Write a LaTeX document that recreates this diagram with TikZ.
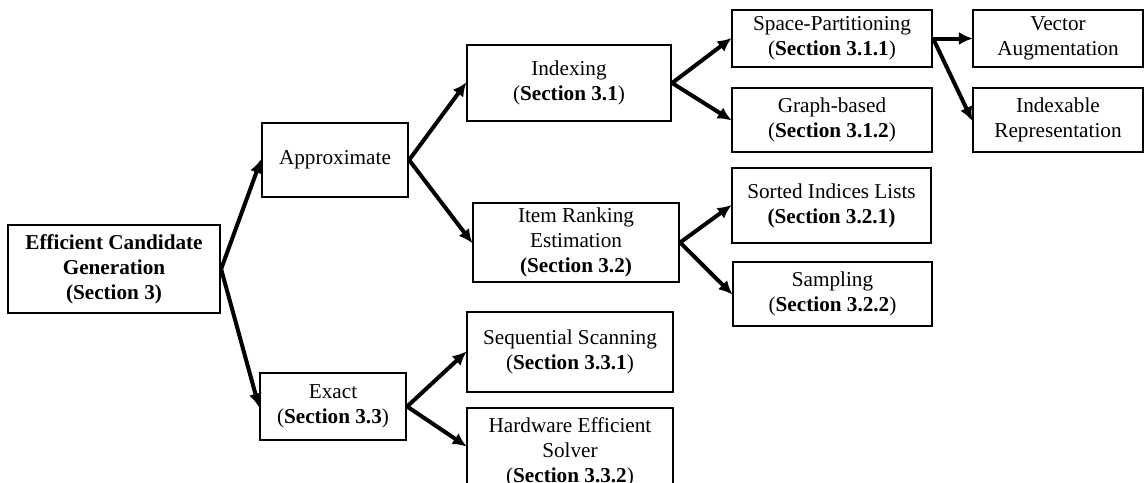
\documentclass[tikz,border=0pt]{standalone}
\usepackage{fontspec}
\setmainfont{Liberation Serif}
\usetikzlibrary{arrows.meta}
\tikzset{
  box/.style={draw=black, line width=2.2pt, align=center, inner sep=0pt,
    font=\fontsize{21.2}{25}\selectfont},
  conn/.style={line width=4pt, -{Latex[length=14pt,width=13pt]}, shorten >=-1pt}
}
\begin{document}
\begin{tikzpicture}[x=1pt,y=-1pt]
\useasboundingbox (0,0) rectangle (1145,482);
\node[box, minimum width=212pt, minimum height=88pt] (root) at (114,269)
  {\textbf{Efficient Candidate}\\\textbf{Generation}\\\textbf{(Section 3)}};
\node[box, minimum width=146pt, minimum height=74pt] (approx) at (335,160) {Approximate};
\node[box, minimum width=146pt, minimum height=67pt] (exact) at (333,406.5)
  {Exact\\(\textbf{Section 3.3})};
\node[box, minimum width=204pt, minimum height=76pt] (idx) at (569,83)
  {Indexing\\(\textbf{Section 3.1})};
\node[box, minimum width=206pt, minimum height=79pt] (irank) at (576,242.5)
  {Item Ranking\\Estimation\\\textbf{(Section 3.2)}};
\node[box, minimum width=200pt, minimum height=57pt] (sp) at (832,38.5)
  {Space-Partitioning\\(\textbf{Section 3.1.1})};
\node[box, minimum width=200pt, minimum height=64pt] (gb) at (832,120)
  {Graph-based\\(\textbf{Section 3.1.2})};
\node[box, minimum width=199pt, minimum height=75pt] (sil) at (831.5,205.5)
  {Sorted Indices Lists\\\textbf{(Section 3.2.1)}};
\node[box, minimum width=199pt, minimum height=64pt] (samp) at (832.5,294)
  {Sampling\\(\textbf{Section 3.2.2})};
\node[box, minimum width=170pt, minimum height=57pt] (va) at (1058,38.5)
  {Vector\\Augmentation};
\node[box, minimum width=170pt, minimum height=64pt] (ir) at (1058,120)
  {Indexable\\Representation};
\node[box, minimum width=206pt, minimum height=80pt] (seq) at (570,352)
  {Sequential Scanning\\(\textbf{Section 3.3.1})};
\node[box, minimum width=206pt, minimum height=88pt] (hw) at (570,452)
  {Hardware Efficient\\Solver\\(\textbf{Section 3.3.2})};
\draw[conn] (root.east) -- (approx.west);
\draw[conn] (root.east) -- (exact.west);
\draw[conn] (approx.east) -- (idx.west);
\draw[conn] (approx.east) -- (irank.west);
\draw[conn] (idx.east) -- (sp.west);
\draw[conn] (idx.east) -- (gb.west);
\draw[conn] (irank.east) -- (sil.west);
\draw[conn] (irank.east) -- (samp.west);
\draw[conn] (sp.east) -- (va.west);
\draw[conn] (sp.east) -- (ir.west);
\draw[conn] (exact.east) -- (seq.west);
\draw[conn] (exact.east) -- ([yshift=6pt]hw.west);
\end{tikzpicture}
\end{document}
